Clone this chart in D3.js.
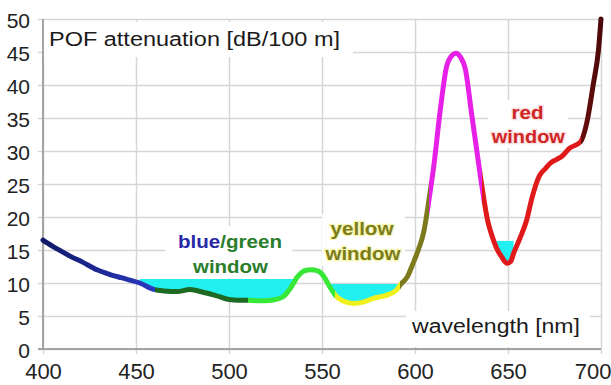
<!DOCTYPE html>
<html>
<head>
<meta charset="utf-8">
<script src="https://cdn.jsdelivr.net/npm/d3@7"></script>
<style>
body { margin: 0; background: #fff; }
text { font-family: "Liberation Sans", Arial, sans-serif; }
</style>
</head>
<body>
<svg id="svg1" width="611" height="385"></svg>
<script>
// POF attenuation spectrum
const wavelength = [400, 405, 410, 415, 421, 429, 435, 442, 452, 460,
    465, 472, 479, 486, 493, 500, 505, 510,
    516, 523, 529, 533, 537, 541, 544, 548, 551, 554, 557,
    561, 567, 572, 578, 584, 590, 592,
    596, 599, 602, 604.5, 606, 607.5,
    610, 613.5, 617, 620, 622, 624.5, 627, 630.5, 633, 636,
    639, 641, 644, 646.5, 649.5, 651.5, 653, 656, 660, 663, 667, 670, 673, 676, 679, 683, 689,
    692.3, 695.9, 698.6, 700];
const attenuation = [16.5, 15.6, 14.8, 14.0, 13.2, 12.0, 11.4, 10.8, 10.0, 9.0,
    8.8, 8.7, 9.0, 8.6, 8.1, 7.5, 7.4, 7.4,
    7.3, 7.4, 7.9, 9.2, 11.0, 11.9, 12.0, 11.8, 11.0, 9.5, 8.2,
    7.3, 6.9, 7.1, 7.7, 8.1, 8.9, 9.7,
    11.0, 13.0, 15.2, 17.5, 19.8, 22.6,
    27.5, 36.0, 42.8, 44.5, 44.8, 44.2, 42.5, 35.5, 30.5, 24.6,
    19.5, 17.5, 15.2, 14.0, 13.0, 13.3, 14.5, 16.5, 19.5, 23.0, 26.3, 27.3, 28.2, 28.7, 29.2, 30.4, 31.4,
    34.2, 40.2, 45.2, 50];

// colour of the curve by wavelength band
const bandStart = [400, 460, 510, 557, 592, 607.5, 636, 689];
const bandEnd = [460, 510, 557, 592, 607.5, 636, 689, 700];
const bandColorFrom = ["#111a66", "#1e6a22", "#38e838", "#f0f01e", "#7d7a1e", "#e620e6", "#e01a1a", "#6a0e0e"];
const bandColorTo = ["#2a38c2", "#1e6a22", "#38e838", "#f0f01e", "#7d7a1e", "#e620e6", "#e01a1a", "#4c0808"];

// transmission windows (cyan)
const windowStart = [452, 554, 644];
const windowEnd = [538, 594, 653];
const windowLevel = [10.6, 9.9, 16.4];

const xTicks = [400, 450, 500, 550, 600, 650, 700];
const yTicks = [0, 5, 10, 15, 20, 25, 30, 35, 40, 45, 50];

function init() {
    var data = wavelength.map(function(w, i) { return {nm: w, db: attenuation[i]}; });
    var x = d3.scaleLinear().domain([400, 700]).range([43, 601]);
    var y = d3.scaleLinear().domain([0, 50]).range([349, 19]);
    var svg = d3.select("#svg1");
    var defs = svg.append("defs");

    // grid + tick labels
    var yAxis = svg.append("g")
        .attr("transform", "translate(38,0)")
        .call(d3.axisLeft(y).tickValues(yTicks).tickSize(-(601 - 38)).tickPadding(8));
    var xAxis = svg.append("g")
        .attr("transform", "translate(0,354)")
        .call(d3.axisBottom(x).tickValues(xTicks).tickSize(-(354 - 19)).tickPadding(9));
    [xAxis, yAxis].forEach(function(g) {
        g.select(".domain").remove();
        g.selectAll(".tick line").attr("stroke", "#d6d6d6").attr("stroke-width", 1.5);
        g.selectAll(".tick text")
            .attr("fill", "#222")
            .style("font-family", "'Liberation Sans', Arial, sans-serif")
            .style("font-size", "21px");
    });
    yAxis.selectAll(".tick text").attr("dy", "0.4em");
    xAxis.selectAll(".tick text").style("font-size", "22px");
    // last label sits against the right edge
    xAxis.selectAll(".tick text").filter(d => d === 700).attr("text-anchor", "end").attr("dx", 10);

    // white boxes behind the labels
    var boxes = [[44, 22, 309, 35], [165, 226, 127, 52], [322, 214, 83, 52], [488, 100, 80, 48], [406, 311, 184, 36]];
    svg.append("g").selectAll("rect").data(boxes).enter().append("rect")
        .attr("x", d => d[0]).attr("y", d => d[1])
        .attr("width", d => d[2]).attr("height", d => d[3])
        .attr("fill", "#fff");

    svg.append("line")
        .attr("x1", x(400)).attr("x2", x(400)).attr("y1", y(50)).attr("y2", y(0))
        .attr("stroke", "#a4a4a4").attr("stroke-width", 2);
    svg.append("line")
        .attr("x1", 38).attr("x2", x(700)).attr("y1", y(0)).attr("y2", y(0))
        .attr("stroke", "#a4a4a4").attr("stroke-width", 2);

    // cyan windows: area between curve and level, clipped to the window
    windowStart.forEach(function(w0, i) {
        var lvl = windowLevel[i];
        defs.append("clipPath").attr("id", "win" + i)
            .append("rect")
            .attr("x", x(w0)).attr("width", x(windowEnd[i]) - x(w0))
            .attr("y", y(lvl)).attr("height", y(0) - y(lvl));
        var area = d3.area()
            .x(d => x(d.nm))
            .y0(y(lvl))
            .y1(d => y(d.db))
            .curve(d3.curveMonotoneX);
        svg.append("path")
            .datum(data)
            .attr("clip-path", "url(#win" + i + ")")
            .attr("fill", "#22eff0")
            .attr("d", area);
    });

    // curve coloured by band
    var grad = defs.append("linearGradient")
        .attr("id", "bands")
        .attr("gradientUnits", "userSpaceOnUse")
        .attr("x1", x(400)).attr("x2", x(700))
        .attr("y1", 0).attr("y2", 0);
    bandStart.forEach(function(b, i) {
        grad.append("stop").attr("offset", (b - 400) / 300).attr("stop-color", bandColorFrom[i]);
        grad.append("stop").attr("offset", (bandEnd[i] - 400) / 300).attr("stop-color", bandColorTo[i]);
    });
    var line = d3.line()
        .x(d => x(d.nm))
        .y(d => y(d.db))
        .curve(d3.curveMonotoneX);
    svg.append("path")
        .datum(data)
        .attr("fill", "none")
        .attr("stroke", "url(#bands)")
        .attr("stroke-width", 5)
        .attr("stroke-linecap", "round")
        .attr("stroke-linejoin", "round")
        .attr("d", line);

    // texts
    svg.append("text")
        .attr("x", 49).attr("y", 46)
        .attr("font-size", 20).attr("fill", "#1a1a1a")
        .attr("textLength", 291).attr("lengthAdjust", "spacingAndGlyphs")
        .text("POF attenuation [dB/100 m]");
    svg.append("text")
        .attr("x", 412).attr("y", 333)
        .attr("font-size", 20).attr("fill", "#1a1a1a")
        .attr("textLength", 168).attr("lengthAdjust", "spacingAndGlyphs")
        .text("wavelength [nm]");

    function label(cx, base, len, color, halo) {
        var t = svg.append("text")
            .attr("x", cx).attr("y", base)
            .attr("text-anchor", "middle")
            .attr("font-size", 18).attr("font-weight", "bold")
            .attr("textLength", len).attr("lengthAdjust", "spacingAndGlyphs")
            .attr("fill", color);
        if (halo) {
            t.attr("stroke", halo).attr("stroke-width", 2.5).attr("paint-order", "stroke");
        }
        return t;
    }
    var bg = label(230, 248, 104, "#2a7d2a");
    bg.append("tspan").attr("fill", "#2828a8").text("blue");
    bg.append("tspan").text("/green");
    label(230.5, 273, 75, "#2a7d2a").text("window");
    label(362, 235, 63, "#7c7c1c", "#f6f6b0").text("yellow");
    label(363, 260, 75, "#7c7c1c", "#f6f6b0").text("window");
    label(527.5, 118.5, 32, "#d02626", "#fbe0e0").text("red");
    label(528.3, 143, 73, "#d02626", "#fbe0e0").text("window");
}
init();
</script>
</body>
</html>
